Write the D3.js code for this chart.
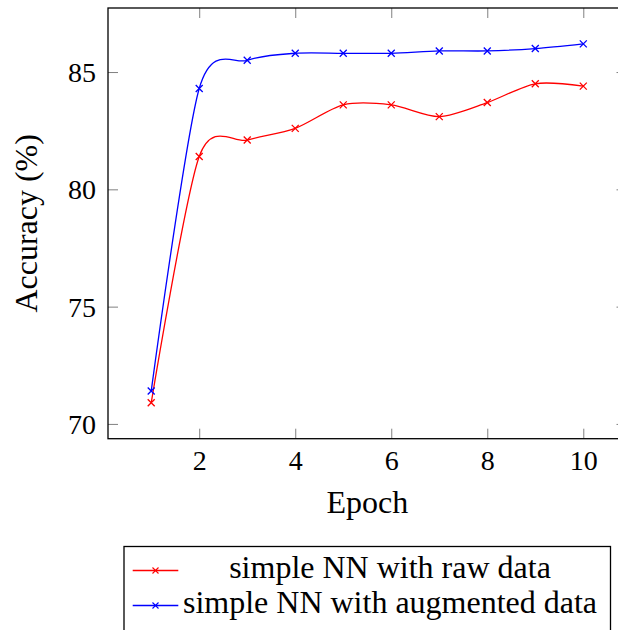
<!DOCTYPE html>
<html>
<head>
<meta charset="utf-8">
<script src="https://cdn.jsdelivr.net/npm/d3@7"></script>
<style>
  body { margin: 0; background: #fff; }
  svg { display: block; font-family: "Liberation Serif", serif; }
</style>
</head>
<body>
<div id="chart"></div>
<script>
// data
var epochs = [1, 2, 3, 4, 5, 6, 7, 8, 9, 10];
var rawAcc = [70.9, 81.4, 82.1, 82.6, 83.6, 83.6, 83.1, 83.7, 84.5, 84.4];
var augAcc = [71.4, 84.3, 85.5, 85.8, 85.8, 85.8, 85.9, 85.9, 86.0, 86.2];
var xTicks = [2, 4, 6, 8, 10];
var yTicks = [70, 75, 80, 85];
var seriesNames = ["simple NN with raw data", "simple NN with augmented data"];
var seriesColors = ["#ff0000", "#0000ff"];

(function () {
  var w = 618, h = 630;
  var plotL = 108, plotR = 626.5, plotT = 8, plotB = 438.7;
  var tickLen = 10;

  var svg = d3.select("#chart").append("svg")
    .attr("width", w)
    .attr("height", h);

  // pgfplots style: enlarge limits by 10%
  var xPad = (d3.max(epochs) - d3.min(epochs)) * 0.1;
  var allY = rawAcc.concat(augAcc);
  var yPad = (d3.max(allY) - d3.min(allY)) * 0.1;

  var xScale = d3.scaleLinear()
    .domain([d3.min(epochs) - xPad, d3.max(epochs) + xPad])
    .range([plotL, plotR]);
  var yScale = d3.scaleLinear()
    .domain([d3.min(allY) - yPad, d3.max(allY) + yPad])
    .range([plotB, plotT]);

  // ticks (inside, mirrored)
  var tickColor = "#808080";
  function drawAxis(axis, tx, ty) {
    var g = svg.append("g")
      .attr("transform", "translate(" + tx + "," + ty + ")")
      .call(axis);
    g.select(".domain").remove();
    g.selectAll(".tick line").attr("stroke", tickColor).attr("stroke-width", 1);
    return g;
  }

  var gx = drawAxis(d3.axisBottom(xScale).tickValues(xTicks).tickSize(-tickLen).tickFormat(d3.format("d")), 0, plotB);
  gx.selectAll("text")
    .attr("y", 31)
    .attr("dy", 0)
    .attr("fill", "#000")
    .attr("font-family", "Liberation Serif, serif")
    .attr("font-size", 28);
  drawAxis(d3.axisTop(xScale).tickValues(xTicks).tickSize(-tickLen).tickFormat(""), 0, plotT);

  var gy = drawAxis(d3.axisLeft(yScale).tickValues(yTicks).tickSize(-tickLen).tickFormat(d3.format("d")), plotL, 0);
  gy.selectAll("text")
    .attr("x", -12)
    .attr("dy", "0.34em")
    .attr("fill", "#000")
    .attr("font-family", "Liberation Serif, serif")
    .attr("font-size", 28);
  drawAxis(d3.axisRight(yScale).tickValues(yTicks).tickSize(-tickLen).tickFormat(""), plotR, 0);

  // frame
  svg.append("rect")
    .attr("x", plotL)
    .attr("y", plotT)
    .attr("width", plotR - plotL)
    .attr("height", plotB - plotT)
    .attr("fill", "none")
    .attr("stroke", "#000")
    .attr("stroke-width", 1.3);

  // lines, pgfplots "smooth"
  var line = d3.line()
    .x(function (d) { return xScale(d[0]); })
    .y(function (d) { return yScale(d[1]); })
    .curve(d3.curveCardinal.tension(0.17));

  function markerPath(cx, cy, r) {
    return "M" + (cx - r) + "," + (cy - r) + "L" + (cx + r) + "," + (cy + r) +
      "M" + (cx - r) + "," + (cy + r) + "L" + (cx + r) + "," + (cy - r);
  }

  [rawAcc, augAcc].forEach(function (vals, si) {
    var pts = epochs.map(function (e, i) { return [e, vals[i]]; });
    svg.append("path")
      .attr("d", line(pts))
      .attr("fill", "none")
      .attr("stroke", seriesColors[si])
      .attr("stroke-width", 1.3);
    svg.selectAll(".m" + si)
      .data(pts)
      .enter()
      .append("path")
      .attr("class", "m" + si)
      .attr("d", function (d) { return markerPath(xScale(d[0]), yScale(d[1]), 3.5); })
      .attr("stroke", seriesColors[si])
      .attr("stroke-width", 1.3)
      .attr("fill", "none");
  });

  // axis labels
  svg.append("text")
    .attr("x", (plotL + plotR) / 2)
    .attr("y", 513)
    .attr("text-anchor", "middle")
    .attr("font-size", 32)
    .text("Epoch");

  svg.append("text")
    .attr("text-anchor", "middle")
    .attr("transform", "translate(37," + ((plotT + plotB) / 2) + ")rotate(-90)")
    .attr("font-size", 32)
    .text("Accuracy (%)");

  // legend
  var lg = svg.append("g");
  lg.append("rect")
    .attr("x", 124)
    .attr("y", 546.5)
    .attr("width", 486.5)
    .attr("height", 100)
    .attr("fill", "#fff")
    .attr("stroke", "#000")
    .attr("stroke-width", 1.3);

  var legendRows = [578, 613];
  seriesNames.forEach(function (name, i) {
    var ly = legendRows[i] - 7.5;
    lg.append("line")
      .attr("x1", 132.7).attr("x2", 178.3)
      .attr("y1", ly).attr("y2", ly)
      .attr("stroke", seriesColors[i])
      .attr("stroke-width", 1.3);
    lg.append("path")
      .attr("d", markerPath(155.5, ly, 3))
      .attr("stroke", seriesColors[i])
      .attr("stroke-width", 1.1);
    lg.append("text")
      .attr("x", 390)
      .attr("y", legendRows[i])
      .attr("text-anchor", "middle")
      .attr("font-size", 32)
      .text(name);
  });
})();
</script>
</body>
</html>
